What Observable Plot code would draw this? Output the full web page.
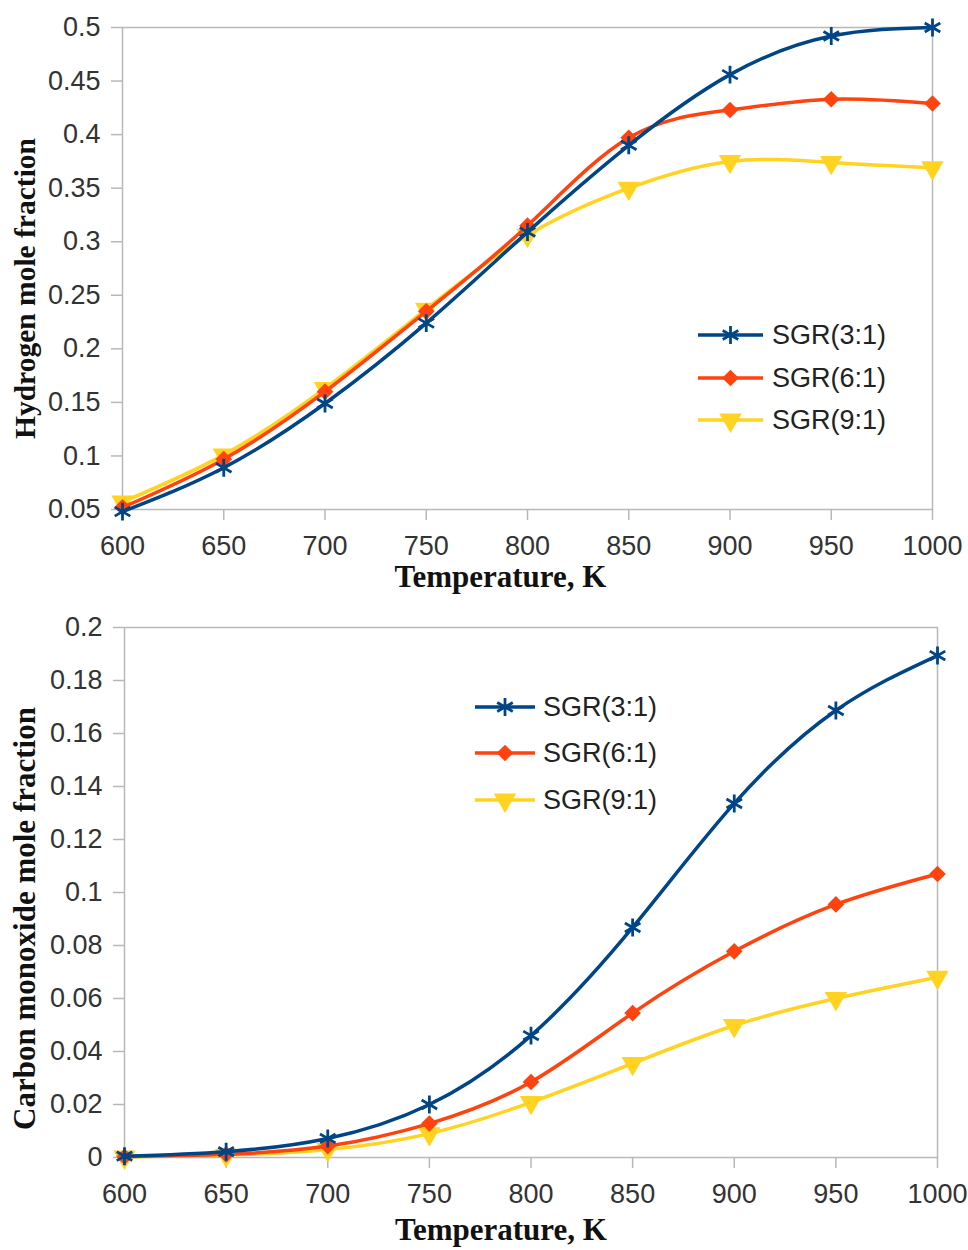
<!DOCTYPE html>
<html>
<head>
<meta charset="utf-8">
<script src="https://cdn.jsdelivr.net/npm/d3@7"></script>
<script src="https://cdn.jsdelivr.net/npm/@observablehq/plot@0.6"></script>
<style>
  html, body { margin: 0; padding: 0; background: #fff; }
  #wrap { width: 968px; }
  svg { display: block; }
</style>
</head>
<body>
<div id="wrap"></div>
<script>
// ---- data ----
const temperatures = [600, 650, 700, 750, 800, 850, 900, 950, 1000];
const seriesNames = ["SGR(3:1)", "SGR(6:1)", "SGR(9:1)"];

// Hydrogen mole fraction
const h2_sgr3 = [0.048, 0.089, 0.149, 0.224, 0.309, 0.390, 0.456, 0.492, 0.500];
const h2_sgr6 = [0.052, 0.097, 0.160, 0.235, 0.315, 0.397, 0.423, 0.433, 0.429];
const h2_sgr9 = [0.057, 0.101, 0.163, 0.237, 0.306, 0.350, 0.375, 0.374, 0.369];

// Carbon monoxide mole fraction
const co_sgr3 = [0.0005, 0.0022, 0.0072, 0.0200, 0.0460, 0.0868, 0.1336, 0.1687, 0.1894];
const co_sgr6 = [0.0003, 0.0012, 0.0043, 0.0128, 0.0285, 0.0545, 0.0778, 0.0955, 0.1070];
const co_sgr9 = [0.0002, 0.0009, 0.0030, 0.0090, 0.0208, 0.0355, 0.0498, 0.0600, 0.0680];

const xTicks = [600, 650, 700, 750, 800, 850, 900, 950, 1000];
const yTicksH2 = [0.05, 0.1, 0.15, 0.2, 0.25, 0.3, 0.35, 0.4, 0.45, 0.5];
const yTicksCO = [0, 0.02, 0.04, 0.06, 0.08, 0.1, 0.12, 0.14, 0.16, 0.18, 0.2];

const colors = ["#004586", "#ff420e", "#ffd320"];

const fmt = d => String(+d.toFixed(3));

function styleFor(i) {
  if (i === 0) return {symbol: "asterisk", r: 8.5, stroke: colors[0], strokeWidth: 2.8, fill: "none"};
  if (i === 1) return {symbol: "diamond2", r: 7.5, fill: colors[1], stroke: "none"};
  return {symbol: "triangle", r: 8.3, fill: colors[2], stroke: "none", rotate: 180};
}

function makeChart(cfg) {
  const seriesData = cfg.series.map(vals => temperatures.map((t, i) => ({t, v: vals[i]})));
  const marks = [
    Plot.frame({stroke: "#b8b8b8", strokeWidth: 1.5}),
    Plot.axisX({ticks: xTicks, tickSize: 11, tickPadding: 15, stroke: "#b8b8b8", strokeWidth: 1.5,
      tickFormat: d => String(d), fontSize: 27, fill: "#333", label: null}),
    Plot.axisY({ticks: cfg.yTicks, tickSize: 11, tickPadding: 11, stroke: "#b8b8b8", strokeWidth: 1.5,
      tickFormat: fmt, fontSize: 27, fill: "#333", label: null})
  ];
  // draw in reverse so SGR(3:1) is on top
  for (let i = seriesData.length - 1; i >= 0; i--) {
    marks.push(Plot.line(seriesData[i], {x: "t", y: "v", stroke: colors[i], strokeWidth: 3.5, curve: "natural"}));
    marks.push(Plot.dot(seriesData[i], {x: "t", y: "v", ...styleFor(i)}));
  }
  marks.push(Plot.text([cfg.xLabel], {frameAnchor: "bottom", text: d => d, dy: cfg.xLabelDy, dx: cfg.xLabelDx,
    fontSize: 31, fontWeight: "bold", fontFamily: "Liberation Serif, Times New Roman, serif", fill: "#111",
    lineAnchor: "top", textAnchor: "middle"}));
  marks.push(Plot.text([cfg.yLabel], {frameAnchor: "left", text: d => d, rotate: -90, dx: cfg.yLabelDx, dy: cfg.yLabelDy,
    fontSize: cfg.yLabelSize, fontWeight: "bold", fontFamily: "Liberation Serif, Times New Roman, serif", fill: "#111",
    lineAnchor: "middle", textAnchor: "middle"}));

  const svg = Plot.plot({
    width: 968,
    height: cfg.height,
    marginTop: cfg.marginTop,
    marginBottom: cfg.marginBottom,
    marginLeft: cfg.marginLeft,
    marginRight: cfg.marginRight,
    style: {fontFamily: "Liberation Sans, Arial, sans-serif", background: "#fff", overflow: "visible"},
    x: {domain: [600, 1000]},
    y: {domain: cfg.yDomain},
    marks
  });

  // legend
  const g = d3.select(svg).append("g").attr("text-anchor", "start");
  cfg.legend.ys.forEach((y, i) => {
    const x0 = cfg.legend.x0, x1 = cfg.legend.x1, xm = (x0 + x1) / 2;
    g.append("line").attr("x1", x0).attr("x2", x1).attr("y1", y).attr("y2", y)
      .attr("stroke", colors[i]).attr("stroke-width", 3.5);
    const s = styleFor(i);
    const symType = i === 0 ? d3.symbolAsterisk : i === 1 ? d3.symbolDiamond2 : d3.symbolTriangle;
    const p = g.append("path")
      .attr("d", d3.symbol(symType, Math.PI * s.r * s.r)())
      .attr("transform", `translate(${xm},${y})` + (i === 2 ? " rotate(180)" : ""));
    if (i === 0) p.attr("fill", "none").attr("stroke", colors[0]).attr("stroke-width", s.strokeWidth);
    else p.attr("fill", colors[i]);
    g.append("text").attr("x", cfg.legend.tx).attr("y", y).attr("dy", "0.35em")
      .attr("text-anchor", "start")
      .attr("font-size", 27).attr("fill", "#222").text(seriesNames[i]);
  });
  return svg;
}

const wrap = document.getElementById("wrap");
wrap.appendChild(makeChart({
  height: 600, marginTop: 27, marginBottom: 91, marginLeft: 122, marginRight: 36,
  yDomain: [0.05, 0.5], yTicks: yTicksH2,
  series: [h2_sgr3, h2_sgr6, h2_sgr9],
  xLabel: "Temperature, K", xLabelDx: -27, xLabelDy: 55,
  yLabel: "Hydrogen mole fraction", yLabelSize: 29.5, yLabelDx: -97, yLabelDy: 20,
  legend: {x0: 698, x1: 763, tx: 772, ys: [335, 378, 420]}
}));
wrap.appendChild(makeChart({
  height: 650, marginTop: 27, marginBottom: 93, marginLeft: 124, marginRight: 31,
  yDomain: [0, 0.2], yTicks: yTicksCO,
  series: [co_sgr3, co_sgr6, co_sgr9],
  xLabel: "Temperature, K", xLabelDx: -30, xLabelDy: 60,
  yLabel: "Carbon monoxide mole fraction", yLabelSize: 31, yLabelDx: -99, yLabelDy: 26,
  legend: {x0: 475, x1: 535, tx: 543, ys: [107, 153, 200]}
}));
</script>
</body>
</html>
